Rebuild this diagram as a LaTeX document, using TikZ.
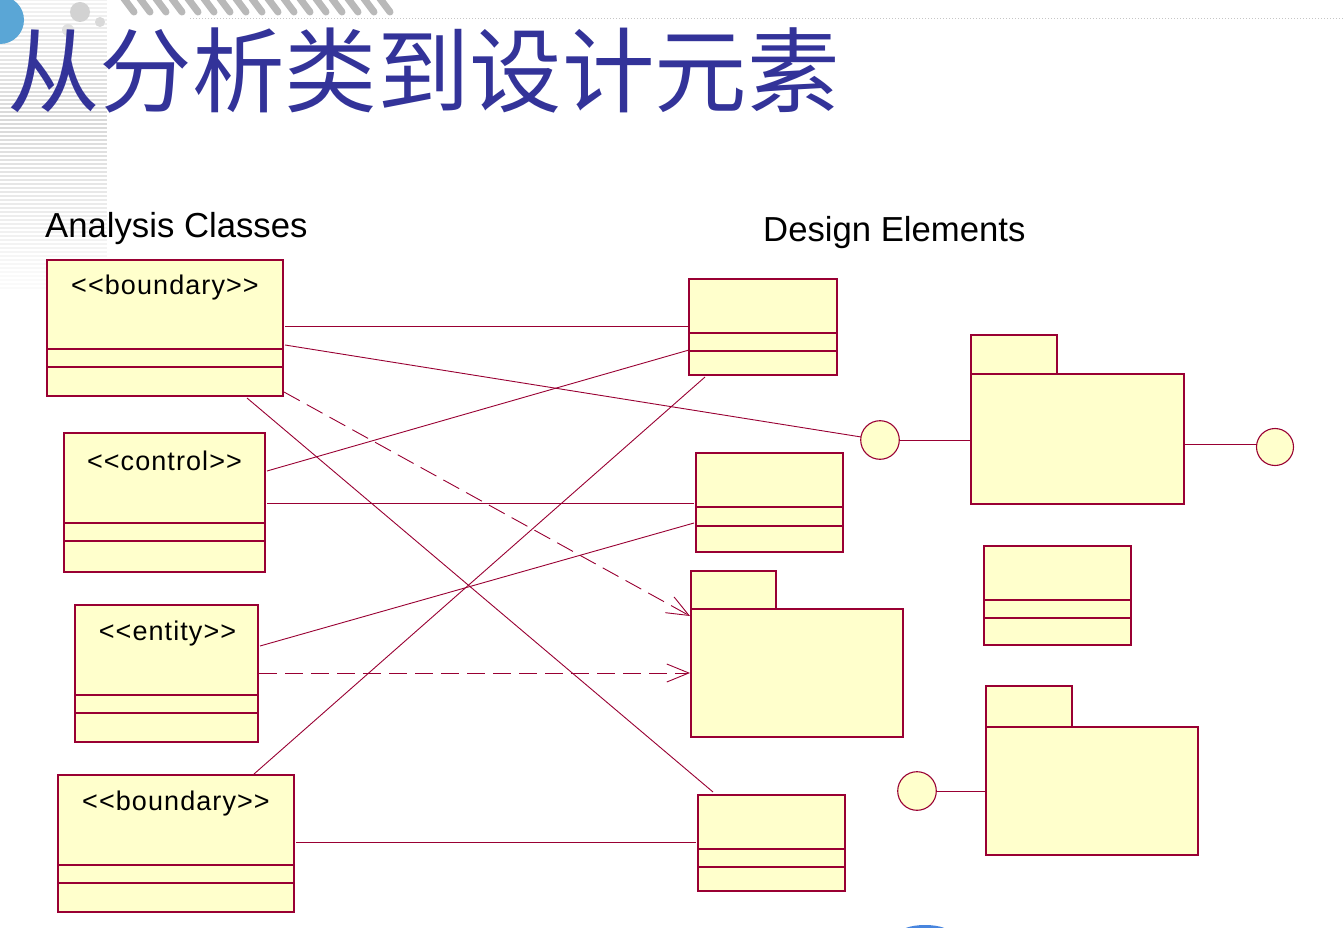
\documentclass[tikz,border=0pt]{standalone}
\usepackage{fontspec}
\setmainfont{Liberation Sans}
\newfontfamily\cjkfont{Noto Sans CJK SC}
\newfontfamily\stfont[LetterSpace=4]{Liberation Sans}
\usetikzlibrary{arrows.meta,calc}
\definecolor{umlred}{HTML}{990033}
\definecolor{umlfill}{HTML}{FFFFCC}
\definecolor{titleblue}{HTML}{333399}
\definecolor{globeblue}{HTML}{5AA6D6}
\begin{document}
\begin{tikzpicture}[x=1pt,y=-1pt,
  box/.style={draw=umlred, fill=umlfill, line width=1.3pt, rectangle, inner sep=0pt, outer sep=0pt, anchor=north west},
  iface/.style={draw=umlred, fill=umlfill, line width=1.1pt, circle, inner sep=0pt, outer sep=0pt, minimum size=38.6pt},
  comp/.style={draw=umlred, line width=1.3pt},
  conn/.style={draw=umlred, line width=0.9pt},
  dep/.style={conn, dash pattern=on 18pt off 8pt, -{Straight Barb[length=22pt,width=18pt,line width=0.9pt]}},
  stereo/.style={font=\stfont\fontsize{27pt}{30pt}\selectfont, anchor=base, inner sep=0pt},
  heading/.style={font=\fontsize{34.7pt}{40pt}\selectfont, anchor=base west, inner sep=0pt},
  deco/.style={line width=2pt}
]
\useasboundingbox (0,0) rectangle (1343,928);
\clip (0,0) rectangle (1343,928);
\fill[white] (0,0) rectangle (1343,928);

% ---- background decoration ----
\foreach \yy in {0,4,...,288} {
  \pgfmathsetmacro{\gv}{max(4,30-abs(\yy-120)/6)}
  \draw[deco, draw=gray!\gv] (0,\yy) -- (107,\yy);
}
\fill[gray!35] (80,12) circle (10);
\fill[gray!25] (68,30) circle (6);
\fill[gray!30] (100,22) circle (5);
\fill[globeblue] (0,20) circle (24);
\foreach \xx in {122,138,...,392} {
  \draw[gray!55, line width=7pt, line cap=round] (\xx,-4) -- (\xx+12,12);
}
\draw[gray!45, line width=1pt, dash pattern=on 1pt off 2pt] (190,19) -- (1343,19);
\fill[globeblue!80!blue] (925,934) ellipse (26 and 9);

% ---- title and headings ----
\node[font=\cjkfont\fontsize{92.5pt}{100pt}\selectfont, text=titleblue, anchor=west, inner sep=0pt] (title) at (7,70) {从分析类到设计元素};
\node[heading] (hleft) at (45,237) {Analysis Classes};
\node[heading] (hright) at (763,241) {Design Elements};

% ---- analysis classes ----
\node[box, minimum width=236pt, minimum height=136pt] (c1) at (47,260) {};
\node[box, minimum width=201pt, minimum height=139pt] (c2) at (64,433) {};
\node[box, minimum width=183pt, minimum height=137pt] (c3) at (75,605) {};
\node[box, minimum width=236pt, minimum height=137pt] (c4) at (58,775) {};
\foreach \n/\a/\b in {c1/89/107, c2/90/108, c3/90/108, c4/90/108} {
  \draw[comp] ($(\n.north west)+(0,\a)$) -- ($(\n.north east)+(0,\a)$);
  \draw[comp] ($(\n.north west)+(0,\b)$) -- ($(\n.north east)+(0,\b)$);
}
\node[stereo] (t1) at ($(c1.north)+(0,34)$) {<<boundary>>};
\node[stereo] (t2) at ($(c2.north)+(0,37)$) {<<control>>};
\node[stereo] (t3) at ($(c3.north)+(1,35)$) {<<entity>>};
\node[stereo] (t4) at ($(c4.north)+(0,35)$) {<<boundary>>};

% ---- design elements ----
\node[box, minimum width=148pt, minimum height=96pt] (d1) at (689,279) {};
\node[box, minimum width=147pt, minimum height=99pt] (d2) at (696,453) {};
\node[box, minimum width=147pt, minimum height=96pt] (d4) at (698,795) {};
\node[box, minimum width=147pt, minimum height=99pt] (d6) at (984,546) {};
\foreach \n/\a/\b in {d1/54/72, d2/54/73, d4/54/72, d6/54/72} {
  \draw[comp] ($(\n.north west)+(0,\a)$) -- ($(\n.north east)+(0,\a)$);
  \draw[comp] ($(\n.north west)+(0,\b)$) -- ($(\n.north east)+(0,\b)$);
}
% packages
\node[box, minimum width=85pt, minimum height=38pt] (d3t) at (691,571) {};
\node[box, minimum width=212pt, minimum height=128pt] (d3b) at (691,609) {};
\node[box, minimum width=86pt, minimum height=39pt] (d5t) at (971,335) {};
\node[box, minimum width=213pt, minimum height=130pt] (d5b) at (971,374) {};
\node[box, minimum width=86pt, minimum height=41pt] (d7t) at (986,686) {};
\node[box, minimum width=212pt, minimum height=128pt] (d7b) at (986,727) {};
% interfaces
\node[iface] (i1) at (880,440) {};
\node[iface, minimum size=37pt] (i2) at (1275,447) {};
\node[iface] (i3) at (917,791) {};

% ---- connectors ----
\draw[conn] ($(c1.north east)+(2,66)$) -- ($(d1.north west)+(0,47)$);
\draw[conn] ($(c1.north east)+(2,85)$) -- (i1);
\draw[dep] ($(c1.south east)+(1,-4)$) -- ($(d3b.north west)+(-1,7)$);
\draw[conn] ($(c1.south west)+(200,2)$) -- ($(d4.north west)+(15,-3)$);
\draw[conn] ($(c2.north east)+(2,38)$) -- ($(d1.north west)+(0,71)$);
\draw[conn] ($(c2.north east)+(2,70)$) -- ($(d2.north west)+(-2,50)$);
\draw[conn] ($(c3.north east)+(2,41)$) -- ($(d2.north west)+(-2,70)$);
\draw[dep] ($(c3.north east)+(1,68)$) -- ($(d3b.north west)+(-1,64)$);
\draw[conn] ($(c4.north west)+(196,-1)$) -- ($(d1.south west)+(16,2)$);
\draw[conn] ($(c4.north east)+(2,67)$) -- ($(d4.north west)+(-2,47)$);
\draw[conn] (i1.east) -- (d5b.west |- i1.east);
\coordinate (p5r) at ($(d5b.north east)+(0,70)$);
\draw[conn] (p5r) -- (i2.west |- p5r);
\draw[conn] (i3.east) -- (d7b.west |- i3.east);
\end{tikzpicture}
\end{document}
